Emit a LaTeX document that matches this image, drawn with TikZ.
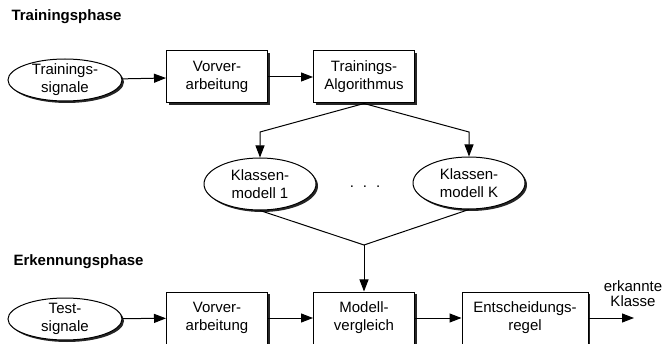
\documentclass[tikz,border=0pt]{standalone}
\usepackage{fontspec}
\setmainfont{Liberation Sans}
\usetikzlibrary{positioning,shapes.geometric,shadows,arrows.meta}

\tikzset{
  shd/.style={drop shadow={shadow xshift=2pt,shadow yshift=-2pt,fill=black!85,opacity=1}},
  blk/.style={draw,fill=white,line width=1pt,minimum width=101pt,minimum height=52pt,align=center,inner sep=0pt,shd},
  ell/.style={draw,fill=white,ellipse,line width=1pt,minimum width=114pt,minimum height=42pt,align=center,inner xsep=0pt,inner ysep=-8pt,shd},
  arr/.style={line width=1pt,-{Triangle[length=12pt,width=9pt]}},
  phase/.style={font=\bfseries\fontsize{15}{18}\selectfont,anchor=west}
}

\begin{document}
\begin{tikzpicture}[x=1pt,y=-1pt,font=\fontsize{15}{18}\selectfont]
    \useasboundingbox (0,0) rectangle (663,344);

    \node[phase] (tp) at (8,17) {Trainingsphase};
    \node[ell] (ts) at (65,80) {Trainings-\\signale};
    \node[blk] (vv1) at (217,77) {Vorver-\\arbeitung};
    \node[blk] (ta) at (364,77) {Trainings-\\Algorithmus};
    \node[ell,minimum width=112pt,minimum height=52pt] (km1) at (260,184) {Klassen-\\modell 1};
    \node[ell,minimum width=112pt,minimum height=52pt] (kmk) at (469,183) {Klassen-\\modell K};
    \node (dots) at (365,187) {.\hspace{9pt}.\hspace{9pt}.};
    \coordinate (l1) at (260,132);
    \coordinate (lk) at (469,132);
    \coordinate (mg) at (364,245);

    \node[phase] (ep) at (10,262) {Erkennungsphase};
    \node[ell] (tst) at (65,319) {Test-\\signale};
    \node[blk] (vv2) at (217,318) {Vorver-\\arbeitung};
    \node[blk] (mv) at (364,318) {Modell-\\vergleich};
    \node[blk,minimum width=126pt] (er) at (525,318) {Entscheidungs-\\regel};
    \coordinate (out) at (634,318);
    \node[align=center,font=\fontsize{15}{15}\selectfont] (ek) at (633,294) {erkannte\\Klasse};

    \draw[arr] (ts) -- (vv1);
    \draw[arr] (vv1) -- (ta);
    \draw[arr] (ta.south) -- (l1) -- (km1.north);
    \draw[arr] (ta.south) -- (lk) -- (kmk.north);
    \draw[line width=1pt] (km1.south) -- (mg) -- (kmk.south);
    \draw[arr] (mg) -- (mv.north);

    \draw[arr] (tst) -- (vv2);
    \draw[arr] (vv2) -- (mv);
    \draw[arr] (mv) -- (er);
    \draw[arr] (er) -- (out);
\end{tikzpicture}
\end{document}
